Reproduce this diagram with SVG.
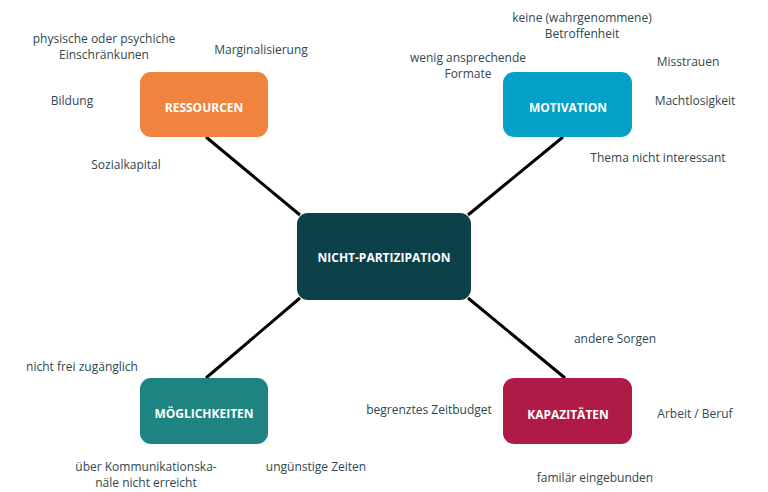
<svg xmlns="http://www.w3.org/2000/svg" width="768" height="492" viewBox="0 0 768 492">
<style>
.t{font-family:"Open Sans","Noto Sans",sans-serif;font-size:12px;fill:#30474d;text-anchor:middle}
.l{font-family:"Open Sans","Noto Sans",sans-serif;font-size:12px;font-weight:bold;fill:#fff;text-anchor:middle}
.c{stroke:#000;stroke-width:3;fill:none}
</style>
<rect width="768" height="492" fill="#fff"/>
<g id="connectors">
<line class="c" x1="206" y1="137" x2="300" y2="215"/>
<line class="c" x1="563" y1="137" x2="468" y2="215"/>
<line class="c" x1="206" y1="378" x2="300" y2="298"/>
<line class="c" x1="565" y1="378" x2="468" y2="298"/>
</g>
<g id="center">
<rect x="297" y="213" width="174" height="87" rx="11" fill="#0d4149"/>
<text class="l" x="384" y="262">NICHT-PARTIZIPATION</text>
</g>
<g id="ressourcen">
<rect x="140" y="72" width="128" height="65" rx="11" fill="#f0833d"/>
<text class="l" x="204" y="112">RESSOURCEN</text>
<text class="t" x="104" y="43">physische oder psychiche</text>
<text class="t" x="104" y="59">Einschränkunen</text>
<text class="t" x="261" y="54">Marginalisierung</text>
<text class="t" x="72" y="105">Bildung</text>
<text class="t" x="126" y="169">Sozialkapital</text>
</g>
<g id="motivation">
<rect x="503" y="72" width="129" height="65" rx="11" fill="#03a0c7"/>
<text class="l" x="568" y="112">MOTIVATION</text>
<text class="t" x="582" y="22">keine (wahrgenommene)</text>
<text class="t" x="582" y="38">Betroffenheit</text>
<text class="t" x="468" y="62">wenig ansprechende</text>
<text class="t" x="468" y="78">Formate</text>
<text class="t" x="688" y="66">Misstrauen</text>
<text class="t" x="695" y="105">Machtlosigkeit</text>
<text class="t" x="658" y="162">Thema nicht interessant</text>
</g>
<g id="moeglichkeiten">
<rect x="140" y="378" width="128" height="66" rx="11" fill="#1e8481"/>
<text class="l" x="204" y="418">MÖGLICHKEITEN</text>
<text class="t" x="82" y="371">nicht frei zugänglich</text>
<text class="t" x="146" y="471">über Kommunikationska-</text>
<text class="t" x="146" y="487">näle nicht erreicht</text>
<text class="t" x="316" y="471">ungünstige Zeiten</text>
</g>
<g id="kapazitaeten">
<rect x="503" y="378" width="129" height="66" rx="11" fill="#b01a47"/>
<text class="l" x="568" y="419">KAPAZITÄTEN</text>
<text class="t" x="615" y="343">andere Sorgen</text>
<text class="t" x="429" y="414">begrenztes Zeitbudget</text>
<text class="t" x="695" y="418">Arbeit / Beruf</text>
<text class="t" x="595" y="482">familär eingebunden</text>
</g>
</svg>
